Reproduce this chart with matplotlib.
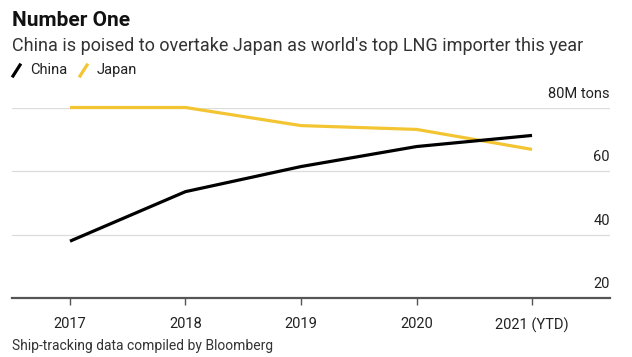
import matplotlib.pyplot as plt
from matplotlib.lines import Line2D

plt.rcParams['font.family'] = ['Roboto', 'DejaVu Sans']

years = [2017, 2018, 2019, 2020, 2021]
year_labels = ["2017", "2018", "2019", "2020", "2021 (YTD)"]
china = [37.9, 53.5, 61.4, 67.7, 71.2]
japan = [80.0, 80.0, 74.3, 73.1, 66.8]
yticks = [20, 40, 60, 80]
ytick_labels = ["20", "40", "60", "80M tons"]

CHINA_C = "#000000"
JAPAN_C = "#f3c533"

fig = plt.figure(figsize=(6.32, 3.57), dpi=100)
ax = fig.add_axes([12/632, 1 - 298/357, (610 - 12)/632, (298 - 107.5)/357])

ax.plot(years, japan, color=JAPAN_C, lw=2.3, solid_capstyle='butt', zorder=3, clip_on=False)
ax.plot(years, china, color=CHINA_C, lw=2.3, solid_capstyle='butt', zorder=4, clip_on=False)

ax.set_xlim(2017 - 0.502, 2021 + 0.675)
ax.set_ylim(20, 80)

for s in ['top', 'left', 'right']:
    ax.spines[s].set_visible(False)
ax.spines['bottom'].set_color('#555555')
ax.spines['bottom'].set_linewidth(1.6)

ax.set_yticks(yticks)
ax.set_yticklabels([])
ax.tick_params(axis='y', length=0)
for y in yticks[1:]:
    ax.axhline(y, color='#dcdcdc', lw=0.9, zorder=1)
for y, lab in zip(yticks, ytick_labels):
    ax.text(1.0, y + 2.2, lab, transform=ax.get_yaxis_transform(),
            ha='right', va='bottom', fontsize=10.5, color='#222222')

ax.set_xticks(years)
ax.set_xticklabels(year_labels, fontsize=10.5, color='#222222')
ax.tick_params(axis='x', length=5, width=1, color='#555555', pad=9)

fig.text(12/632, 1 - 20/357, "Number One", fontsize=15, fontweight='bold',
         va='center', ha='left', color='#111111')
fig.text(12/632, 1 - 46/357,
         "China is poised to overtake Japan as world's top LNG importer this year",
         fontsize=13, va='center', ha='left', color='#333333')

# legend with slash markers
for x0, col, lab in [(13, CHINA_C, "China"), (80, JAPAN_C, "Japan")]:
    fig.add_artist(Line2D([x0/632, (x0 + 7)/632], [1 - 76/357, 1 - 65/357],
                          color=col, lw=2.3, transform=fig.transFigure))
    fig.text((x0 + 17)/632, 1 - 70/357, lab, fontsize=10.5, va='center',
             ha='left', color='#222222')

fig.text(12/632, 1 - 346/357, "Ship-tracking data compiled by Bloomberg",
         fontsize=10, va='center', ha='left', color='#333333')

fig.savefig("out.png", dpi=100, facecolor='white')
